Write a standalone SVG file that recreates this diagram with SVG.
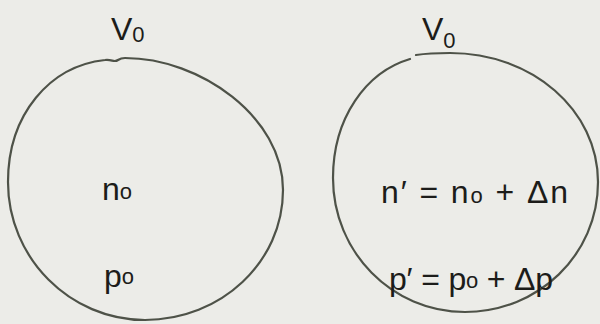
<svg xmlns="http://www.w3.org/2000/svg" width="600" height="324" viewBox="0 0 600 324">
<style>
.bg{fill:#ecece8}
.ring{fill:none;stroke:#4e5248;stroke-width:2.2;stroke-linecap:round}
.t{font-family:"Liberation Sans","DejaVu Sans",sans-serif;fill:#1c1c1a}
.big{font-size:32px}
.sub{font-size:22px}
</style>
<rect class="bg" x="0" y="0" width="600" height="324"/>
<g id="left">
  <path class="ring" d="M125,58 C200,58 283,117 283,190 C283,262 221,320 145,320 C70,320 8,258 8,182 C8,114 50,66 105,60 C112,59 114,63 118,60 C121,58 123,58 125,58 Z"/>
  <text class="t big" x="111" y="40">V<tspan class="sub" dy="2">0</tspan></text>
  <text class="t big" x="102" y="200">n<tspan class="sub" dy="-1">o</tspan></text>
  <text class="t big" x="104" y="287">p<tspan class="sub" dy="-3">o</tspan></text>
</g>
<g id="right">
  <path class="ring" d="M416,55 C426,53.5 440,53 450,53 C532,53 598,110 598,182 C598,255 538,312 465,312 C392,312 333,252 333,178 C333,118 366,72 410,59"/>
  <text class="t big" x="422" y="40">V<tspan class="sub" dy="8">0</tspan></text>
  <text class="t big" x="381" y="203" textLength="187" lengthAdjust="spacing">n′ = n<tspan class="sub">o</tspan> + Δn</text>
  <text class="t big" x="389" y="290" textLength="164" lengthAdjust="spacing">p′ = p<tspan class="sub" dy="-2">o</tspan><tspan dy="2"> + Δp</tspan></text>
</g>
</svg>
